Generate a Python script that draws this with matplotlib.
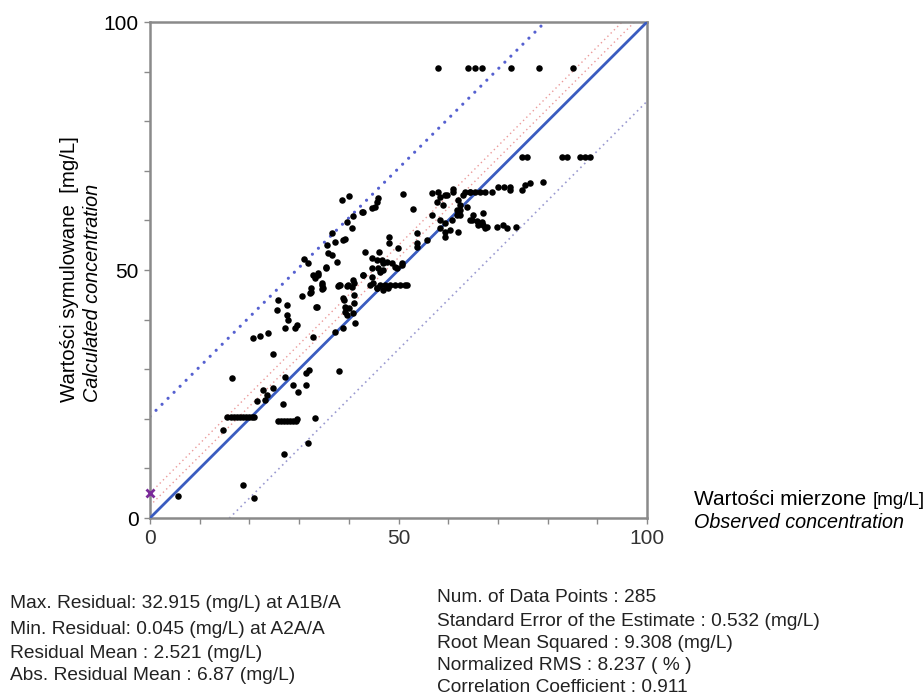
import matplotlib
matplotlib.use('Agg')
import matplotlib.pyplot as plt
import numpy as np

# Wartości mierzone (obs) / symulowane (sim)
obs = [5.6, 18.8, 20.9, 27.0, 31.8, 14.7,
       15.5, 16.3, 17.0, 17.6, 18.2, 18.8, 19.4, 20.0, 20.5, 21.0,
       25.8, 26.4, 27.0, 27.6, 28.2, 28.8, 29.4, 29.6, 33.2,
       26.8, 22.7, 21.5, 23.1, 24.8, 23.5, 16.5, 27.2, 28.8, 29.8, 31.4, 31.4, 32.0, 38.0,
       24.7, 20.7, 22.1, 23.7, 32.8, 37.2, 38.8,
       25.8, 25.6, 27.6, 27.6, 27.8, 29.6, 27.2, 29.2,
       30.6, 32.4, 33.4, 34.6, 34.6, 33.8, 35.4, 32.8, 32.2, 33.6,
       39.0, 39.6, 41.2, 40.0, 41.0, 41.0, 38.0, 39.8, 41.0, 38.2, 40.6, 38.8, 39.2, 40.8,
       42.9, 44.7, 46.3, 46.9, 44.3, 45.7, 46.9, 47.9, 49.3, 50.7,
       46.3, 47.3, 48.3, 49.3, 50.3, 51.3, 51.7,
       40.8, 39.6, 40.6, 36.6, 37.2, 35.6, 35.8, 36.6, 37.6, 39.2, 31.0, 31.8, 35.4,
       33.8, 33.2, 34.6, 34.8, 32.4, 37.8, 39.6, 40.8, 39.2,
       45.7, 45.3, 44.7, 42.9, 38.8, 40.0, 38.6,
       50.9, 52.9, 45.9, 42.7,
       48.1, 48.1, 49.9, 53.7, 53.7, 55.7, 43.3, 46.1, 44.7, 45.7, 46.7, 47.7, 48.7,
       45.9, 46.9, 49.7, 50.7, 42.9, 44.7, 44.9, 45.7, 53.7,
       56.7, 57.9, 58.3, 59.3, 61.0, 57.7, 58.9, 63.0, 64.4, 63.8, 62.4, 61.8, 60.8,
       59.3, 58.3, 59.3, 60.4, 62.0, 56.7, 58.3, 64.8, 65.0, 66.8, 67.0, 67.4, 66.0, 59.3,
       59.8, 61.0, 63.4, 64.4, 65.4, 66.4, 67.4, 68.8, 70.0, 71.2, 72.4, 72.4, 74.8,
       75.5, 76.5, 79.1, 62.0, 62.4,
       64.4, 65.8, 67.0, 67.8, 69.8, 71.0, 71.8, 73.6, 62.4, 61.8,
       74.8, 75.9, 82.9, 83.9, 86.5, 87.5, 88.5,
       57.9, 64.0, 65.4, 66.8, 72.6, 78.3, 85.1]
sim = [4.4, 6.7, 4.0, 12.9, 15.1, 17.8,
       20.4, 20.4, 20.4, 20.4, 20.4, 20.4, 20.4, 20.4, 20.4, 20.4,
       19.6, 19.6, 19.6, 19.6, 19.6, 19.6, 19.6, 20.0, 20.2,
       23.0, 25.8, 23.6, 23.8, 26.2, 24.8, 28.2, 28.4, 26.8, 25.4, 26.8, 29.2, 29.8, 29.7,
       33.1, 36.3, 36.7, 37.3, 36.5, 37.5, 38.3,
       44.0, 41.9, 42.9, 40.9, 39.9, 38.9, 38.3, 38.3,
       44.8, 45.6, 42.5, 47.0, 46.2, 49.0, 50.6, 49.0, 45.4, 42.5,
       44.0, 40.9, 39.3, 42.3, 45.0, 43.3, 47.0, 47.0, 47.4, 47.0, 46.6, 44.4, 42.5, 41.3,
       49.0, 50.4, 49.6, 51.4, 47.0, 46.4, 46.0, 46.4, 50.6, 51.4,
       47.0, 47.0, 47.0, 47.0, 47.0, 47.0, 47.0,
       60.9, 59.7, 58.5, 57.5, 55.6, 55.0, 53.4, 53.0, 51.6, 56.3, 52.2, 51.4, 50.4,
       49.4, 48.4, 47.4, 46.4, 46.4, 46.8, 46.8, 48.0, 41.5,
       63.7, 62.7, 62.5, 61.7, 56.0, 65.0, 64.1,
       65.3, 62.3, 64.5, 61.7,
       56.7, 55.4, 54.4, 57.5, 55.4, 56.0, 53.6, 53.6, 52.4, 52.0, 52.0, 51.6, 51.4,
       50.4, 50.0, 50.4, 51.0, 49.0, 48.6, 47.4, 46.4, 54.6,
       65.5, 65.7, 64.7, 65.1, 65.7, 63.7, 63.1, 65.1, 65.7, 62.7, 62.1, 61.1, 60.1,
       59.5, 58.5, 57.7, 58.1, 57.7, 61.1, 60.1, 60.1, 61.1, 59.7, 61.5, 58.5, 59.1, 56.7,
       65.1, 66.3, 65.7, 65.7, 65.7, 65.7, 65.7, 65.7, 66.7, 66.7, 66.7, 66.1, 66.1,
       67.1, 67.5, 67.7, 64.1, 63.1,
       60.1, 59.9, 59.1, 58.7, 58.7, 59.1, 58.5, 58.7, 61.1, 62.1,
       72.8, 72.8, 72.8, 72.8, 72.8, 72.8, 72.8,
       90.7, 90.7, 90.7, 90.7, 90.7, 90.7, 90.7]

# linie pomocnicze: przesunięcie względem y = x
upper_off = 20.5
lower_off = -16
red_offs = [2.5, 5]

stats_left = ["Max. Residual: 32.915 (mg/L) at A1B/A",
              "Min. Residual: 0.045 (mg/L) at A2A/A",
              "Residual Mean : 2.521 (mg/L)",
              "Abs. Residual Mean : 6.87 (mg/L)"]
stats_right = ["Num. of Data Points : 285",
               "Standard Error of the Estimate : 0.532 (mg/L)",
               "Root Mean Squared : 9.308 (mg/L)",
               "Normalized RMS : 8.237 ( % )",
               "Correlation Coefficient : 0.911"]

plt.rcParams['font.family'] = ['Liberation Sans', 'DejaVu Sans']

fig = plt.figure(figsize=(9.23, 7), dpi=100)
ax = fig.add_axes([150/923, 1-518/700, 497/923, 496/700])

xx = np.array([0, 100])
ax.plot(xx, xx, color='#3a5cc0', lw=2, zorder=3)
ax.plot(xx, xx + upper_off, color='#5560d0', lw=2.3, ls=(0, (0.01, 2.65)),
        dash_capstyle='round', zorder=2)
ax.plot(xx, xx + lower_off, color='#9a9ad0', lw=1.2, ls=(0, (1, 2.2)), zorder=2)
for off in red_offs:
    ax.plot(xx, xx + off, color='#eb9a9a', lw=1, ls=(0, (1, 2.3)), zorder=2)

ax.scatter(obs, sim, s=22, color='black', zorder=4, linewidths=0)
ax.plot([0], [5], marker='x', color='#7a2a9a', ms=6, mew=2, clip_on=False, zorder=5)

ax.set_xlim(0, 100)
ax.set_ylim(0, 100)
ax.set_xticks([0, 50, 100])
ax.set_yticks([0, 50, 100])
ax.set_xticks(np.arange(0, 101, 10), minor=True)
ax.set_yticks(np.arange(0, 101, 10), minor=True)
for sp in ax.spines.values():
    sp.set_color('#8a8a8a')
    sp.set_linewidth(1.8)
ax.tick_params(which='both', direction='out', length=4, width=1, color='#8a8a8a',
               labelsize=15, pad=4)
ax.tick_params(axis='x', labelcolor='#333333')

# opisy osi
fig.text(70/923, 1-402/700, "Wartości symulowane  [mg/L]", rotation=90,
         ha='center', va='bottom', fontsize=14.7)
fig.text(92/923, 1-402/700, "Calculated concentration", rotation=90,
         ha='center', va='bottom', fontsize=14.3, style='italic')

t1 = fig.text(694/923, 1-505/700, "Wartości mierzone", ha='left', va='baseline',
              fontsize=15)
fig.canvas.draw()
bb = t1.get_window_extent()
fig.text((bb.x1 + 6) / 923, 1-505/700, "[mg/L]", ha='left', va='baseline', fontsize=13.5)
fig.text(694/923, 1-522/700, "Observed concentration", ha='left', va='center',
         fontsize=14.2, style='italic')

for s, y in zip(stats_left, [604, 630, 653, 676]):
    fig.text(10/923, 1-y/700, s, ha='left', va='center', fontsize=13.8,
             color='#222222')
for s, y in zip(stats_right, [597, 621, 643, 665, 688]):
    fig.text(437/923, 1-y/700, s, ha='left', va='center', fontsize=13.8,
             color='#222222')

fig.savefig('out.png', dpi=100)
